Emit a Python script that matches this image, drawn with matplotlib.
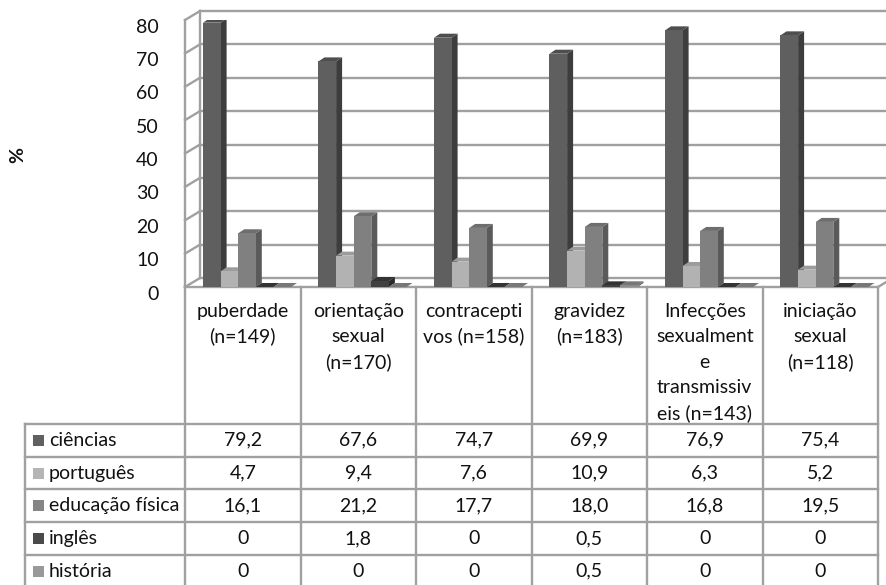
import matplotlib
matplotlib.use("Agg")
import matplotlib.pyplot as plt
import matplotlib.transforms as mtransforms
from matplotlib.patches import Polygon

plt.rcParams['font.family'] = ['Lato', 'DejaVu Sans']

# data
topics = ["puberdade\n(n=149)", "orientação\nsexual\n(n=170)",
          "contracepti\nvos (n=158)", "gravidez\n(n=183)",
          "Infecções\nsexualment\ne\ntransmissiv\neis (n=143)",
          "iniciação\nsexual\n(n=118)"]
subjects = ["ciências", "português", "educação física", "inglês", "história"]
ciencias = [79.2, 67.6, 74.7, 69.9, 76.9, 75.4]
portugues = [4.7, 9.4, 7.6, 10.9, 6.3, 5.2]
ed_fisica = [16.1, 21.2, 17.7, 18.0, 16.8, 19.5]
ingles = [0, 1.8, 0, 0.5, 0, 0]
historia = [0, 0, 0, 0.5, 0, 0]
series = [ciencias, portugues, ed_fisica, ingles, historia]


def fmt(v):
    return "0" if v == 0 else f"{v:.1f}".replace(".", ",")


# face colours: front, side, top
colors = [("#5f5f5f", "#3d3d3d", "#4e4e4e"),
          ("#b2b2b2", "#8a8a8a", "#9c9c9c"),
          ("#808080", "#5a5a5a", "#6e6e6e"),
          ("#404040", "#2a2a2a", "#333333"),
          ("#8c8c8c", "#666666", "#777777")]
key_colors = ["#606060", "#b5b5b5", "#858585", "#4a4a4a", "#999999"]
txt_c = "#111111"
fs = 14

W, H = 887, 585
left_px, right_px = 185, 878
base_px, top_px = 287, 20
unit = (right_px - left_px) / 6.0
yscale = (base_px - top_px) / 80.0

fig = plt.figure(figsize=(W / 100, H / 100), dpi=100)
ax = fig.add_axes([left_px / W, (H - base_px) / H,
                   (right_px - left_px) / W, (base_px - top_px) / H])
ax.set_xlim(0, 6)
ax.set_ylim(0, 80)
ax.patch.set_visible(False)
for s in ["top", "right"]:
    ax.spines[s].set_visible(False)
grid_c = "#a0a0a0"
for s in ["left", "bottom"]:
    ax.spines[s].set_color(grid_c)
    ax.spines[s].set_linewidth(1.7)
ax.set_xticks([])
ax.set_yticks(range(0, 81, 10))
ax.tick_params(axis="y", length=0, pad=19, labelsize=fs, labelcolor=txt_c)
shift = mtransforms.ScaledTranslation(0, -4 / 72, fig.dpi_scale_trans)
for lab in ax.get_yticklabels():
    lab.set_transform(lab.get_transform() + shift)

# wall depth in data units
dx = 15 / unit
dy = 9 / yscale
for v in range(0, 81, 10):
    ax.plot([dx, 6 + dx + 0.1], [v + dy, v + dy], color=grid_c, lw=1.7,
            clip_on=False, zorder=1)
    ax.plot([0, dx], [v, v + dy], color=grid_c, lw=1.7, clip_on=False, zorder=1)
ax.plot([dx, dx], [dy, 80 + dy], color=grid_c, lw=1.7, clip_on=False, zorder=1)
ax.plot([6, 6 + dx], [0, dy], color=grid_c, lw=1.7, clip_on=False, zorder=1)

# 3d bars
bw = 17.6 / unit
start = 18 / unit
sx = 6 / unit
sy = 4 / yscale
for i in range(6):
    for j, vals in enumerate(series):
        x0 = i + start + j * bw
        x1 = x0 + bw
        h = vals[i]
        front, side, top = colors[j]
        ax.add_patch(Polygon([(x1, 0), (x1, h), (x1 + sx, h + sy), (x1 + sx, sy)],
                             closed=True, fc=side, ec="none", zorder=3))
        ax.add_patch(Polygon([(x0, h), (x1, h), (x1 + sx, h + sy), (x0 + sx, h + sy)],
                             closed=True, fc=top, ec="none", zorder=3))
        ax.bar(x0, h, width=bw, align="edge", color=front, zorder=3)

# data table below the chart, columns share the category units
tab = fig.add_axes([0, 0, 1, 1])
tab.set_xlim(-left_px / unit, (W - left_px) / unit)
tab.set_ylim(H, 0)
tab.axis("off")
tab.patch.set_visible(False)

head_bot = 424
row_h = 32.7
x_left = (25 - left_px) / unit
rows_y = [head_bot + k * row_h for k in range(6)]
line_kw = dict(color=grid_c, lw=1.7)
for i in range(7):
    tab.plot([i, i], [base_px, H + 5], **line_kw)
tab.plot([x_left, x_left], [head_bot, H + 5], **line_kw)
for y in rows_y:
    tab.plot([x_left, 6], [y, y], **line_kw)

for i, t in enumerate(topics):
    for k, line in enumerate(t.split("\n")):
        tab.text(i + 0.5, 311 + k * 25.6, line, ha="center", va="center",
                 fontsize=fs, color=txt_c)

for j, name in enumerate(subjects):
    yc = head_bot + (j + 0.5) * row_h
    tab.add_patch(Polygon([(x_left + 8 / unit, yc - 5.5), (x_left + 19 / unit, yc - 5.5),
                           (x_left + 19 / unit, yc + 5.5), (x_left + 8 / unit, yc + 5.5)],
                          closed=True, fc=key_colors[j], ec="none"))
    tab.text(x_left + 24 / unit, yc, name, ha="left", va="center",
             fontsize=fs, color=txt_c)
    for i in range(6):
        tab.text(i + 0.5, yc, fmt(series[j][i]), ha="center", va="center",
                 fontsize=fs, color=txt_c)

fig.text(18 / W, 1 - 155 / H, "%", rotation=90, ha="center", va="center",
         fontsize=fs, fontweight="bold", color=txt_c)

fig.savefig("out.png", dpi=100)
